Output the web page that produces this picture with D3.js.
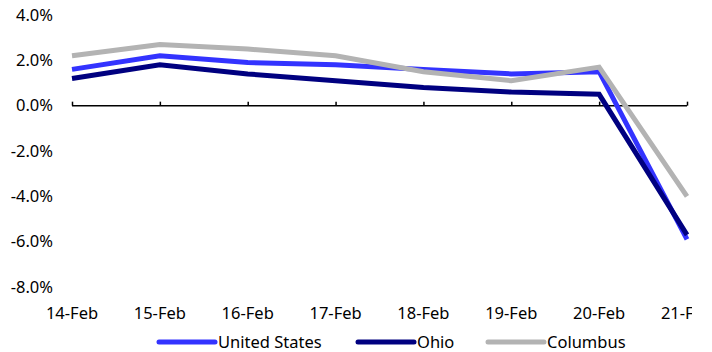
<!DOCTYPE html>
<html><head><meta charset="utf-8">
<script src="https://cdn.jsdelivr.net/npm/d3@7"></script>
<style>body{margin:0;background:#fff}svg{display:block}text{font-family:"Noto Sans","Open Sans",sans-serif}</style>
</head><body>
<svg id="c" width="712" height="352"></svg>
<script>
const categories = ["14-Feb","15-Feb","16-Feb","17-Feb","18-Feb","19-Feb","20-Feb","21-Feb"];
const unitedStates = [1.6, 2.2, 1.9, 1.8, 1.6, 1.4, 1.5, -5.9];
const ohio = [1.2, 1.8, 1.4, 1.1, 0.8, 0.6, 0.5, -5.7];
const columbus = [2.2, 2.7, 2.5, 2.2, 1.5, 1.1, 1.7, -4.0];
const yTicks = [4, 2, 0, -2, -4, -6, -8];
const seriesNames = ["United States", "Ohio", "Columbus"];
const colors = ["#3333FF", "#000080", "#B3B3B3"];

const series = [unitedStates, ohio, columbus];
const svg = d3.select("#c");
const x = d3.scalePoint().domain(categories).range([72, 687]);
const y = d3.scaleLinear().domain([-8, 4]).range([287, 15]);
const fs = 16.5;

svg.append("defs").append("clipPath").attr("id", "clipX")
  .append("rect").attr("x", 0).attr("y", 0).attr("width", 692).attr("height", 352);

// y labels
svg.append("g").selectAll("text").data(yTicks).join("text")
  .attr("x", 53).attr("y", d => y(d)).attr("dy", "0.35em")
  .attr("text-anchor", "end").attr("font-size", fs).attr("fill", "#000")
  .text(d => d.toFixed(1) + "%");

// x axis at 0
const ax = svg.append("g").attr("transform", `translate(0,${y(0)})`)
  .call(d3.axisBottom(x).tickSize(-4).tickPadding(0).tickFormat(""));
ax.select(".domain").attr("stroke", "#000").attr("stroke-width", 1.5).attr("d", `M${x(categories[0])},0H${x(categories[categories.length-1])}`);
ax.selectAll(".tick line").attr("stroke", "#000").attr("stroke-width", 1.5);

// x labels
svg.append("g").attr("clip-path", "url(#clipX)").selectAll("text").data(categories).join("text")
  .attr("x", d => x(d)).attr("y", 313).attr("dy", "0.35em")
  .attr("text-anchor", "middle").attr("font-size", fs).attr("fill", "#000")
  .text(d => d);

// lines
const line = d3.line().x((d, i) => x(categories[i])).y(d => y(d));
series.forEach((s, k) => {
  svg.append("path").datum(s).attr("d", line)
    .attr("fill", "none").attr("stroke", colors[k]).attr("stroke-width", 5)
    .attr("stroke-linejoin", "miter");
});

// legend
const legendX = [159, 358, 488];
const lg = svg.append("g");
seriesNames.forEach((n, k) => {
  lg.append("line").attr("x1", legendX[k]).attr("x2", legendX[k] + 56)
    .attr("y1", 342).attr("y2", 342).attr("stroke", colors[k]).attr("stroke-width", 5)
    .attr("stroke-linecap", "round");
  lg.append("text").attr("x", legendX[k] + 59).attr("y", 342).attr("dy", "0.35em")
    .attr("font-size", fs).attr("fill", "#000").text(n);
});
</script>
</body></html>
